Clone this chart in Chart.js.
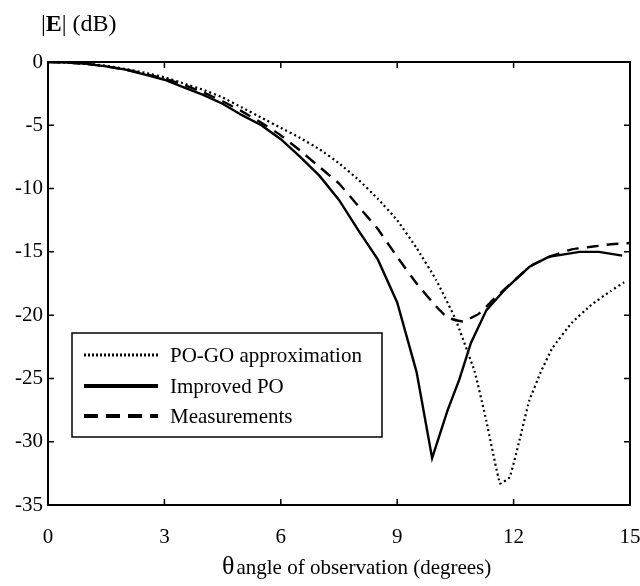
<!DOCTYPE html>
<html>
<head>
<meta charset="utf-8">
<script src="https://cdn.jsdelivr.net/npm/chart.js@4.4.1/dist/chart.umd.min.js"></script>
<style>
  html, body { margin: 0; padding: 0; background: #fff; }
  #wrap { width: 640px; height: 586px; }
</style>
</head>
<body>
<div id="wrap"><canvas id="chart" width="640" height="586"></canvas></div>
<script>
// tick labels
const xTicks = [0, 3, 6, 9, 12, 15];
const yTicks = [0, -5, -10, -15, -20, -25, -30, -35];

// PO-GO approximation (dotted)
const poGoTheta = [0, 0.5, 1, 1.5, 2, 2.5, 3, 3.5, 4, 4.5, 5, 5.5, 6, 6.5, 7, 7.5, 8, 8.5, 9, 9.5, 10, 10.5, 11, 11.3, 11.65, 11.9, 12.15, 12.4, 12.7, 13, 13.5, 14, 14.5, 14.85];
const poGoDb    = [0, -0.05, -0.15, -0.3, -0.55, -0.85, -1.2, -1.7, -2.2, -2.8, -3.6, -4.4, -5.2, -6.0, -6.9, -8.0, -9.3, -10.8, -12.5, -14.7, -17.2, -20.3, -24.5, -28.4, -33.3, -32.8, -29.9, -26.8, -24.5, -22.6, -20.6, -19.2, -18.1, -17.4];

// Improved PO (solid)
const impTheta = [0, 0.5, 1, 1.5, 2, 2.5, 3, 3.5, 4, 4.5, 5, 5.5, 6, 6.5, 7, 7.5, 8, 8.5, 9, 9.5, 9.9, 10.3, 10.6, 10.9, 11.3, 11.8, 12.4, 12.9, 13.7, 14.2, 14.8];
const impDb    = [0, -0.05, -0.15, -0.35, -0.6, -1.0, -1.4, -2.0, -2.6, -3.3, -4.2, -5.0, -6.1, -7.5, -9.0, -10.9, -13.3, -15.6, -19.0, -24.5, -31.3, -27.5, -25.1, -22.2, -19.6, -17.9, -16.2, -15.4, -15.0, -15.0, -15.3];

// Measurements (dashed)
const measTheta = [0, 0.5, 1, 1.5, 2, 2.5, 3, 3.5, 4, 4.5, 5, 5.5, 6, 6.5, 7, 7.5, 8, 8.5, 9, 9.5, 10, 10.3, 10.7, 11.1, 11.5, 12, 12.5, 13, 13.5, 14, 14.5, 15];
const measDb    = [0, -0.05, -0.15, -0.35, -0.6, -0.95, -1.3, -1.8, -2.4, -3.1, -3.9, -4.8, -5.8, -7.0, -8.3, -9.6, -11.4, -13.2, -15.4, -17.5, -19.3, -20.2, -20.5, -19.9, -18.7, -17.3, -16.0, -15.3, -14.8, -14.6, -14.4, -14.3];

const serif = '"Liberation Serif", "Times New Roman", serif';

function toPoints(xs, ys) {
  return xs.map((x, i) => ({ x: x, y: ys[i] }));
}

// inward ticks on all four sides, titles and the boxed legend
const decorations = {
  id: 'decorations',
  afterDraw(chart) {
    const ctx = chart.ctx;
    const area = chart.chartArea;
    const xs = chart.scales.x;
    const ys = chart.scales.y;
    ctx.save();
    ctx.strokeStyle = '#000';
    ctx.lineWidth = 1.5;
    ctx.beginPath();
    xTicks.forEach(v => {
      const px = xs.getPixelForValue(v);
      ctx.moveTo(px, area.bottom); ctx.lineTo(px, area.bottom - 6);
      ctx.moveTo(px, area.top); ctx.lineTo(px, area.top + 6);
    });
    yTicks.forEach(v => {
      const py = ys.getPixelForValue(v);
      ctx.moveTo(area.left, py); ctx.lineTo(area.left + 6, py);
      ctx.moveTo(area.right, py); ctx.lineTo(area.right - 6, py);
    });
    ctx.stroke();

    // frame
    ctx.lineWidth = 2;
    ctx.strokeRect(area.left, area.top, area.right - area.left, area.bottom - area.top);

    // y title  |E| (dB)
    ctx.fillStyle = '#000';
    ctx.textBaseline = 'alphabetic';
    ctx.textAlign = 'left';
    let x = 41;
    const yb = 31;
    ctx.font = '24px ' + serif;
    ctx.fillText('|', x, yb); x += ctx.measureText('|').width;
    ctx.font = 'bold 24px ' + serif;
    ctx.fillText('E', x, yb); x += ctx.measureText('E').width;
    ctx.font = '24px ' + serif;
    ctx.fillText('| (dB)', x, yb);

    // x title
    x = 222;
    const xb = 574;
    ctx.font = '26px ' + serif;
    ctx.fillText('\u03b8', x, xb); x += ctx.measureText('\u03b8').width + 2;
    ctx.font = '21px ' + serif;
    ctx.fillText('angle of observation (degrees)', x, xb);

    // legend box
    const lx = 72, ly = 333, lw = 310, lh = 104;
    ctx.lineWidth = 1.5;
    ctx.fillStyle = '#fff';
    ctx.fillRect(lx, ly, lw, lh);
    ctx.strokeRect(lx, ly, lw, lh);
    const rows = [355, 386, 416];
    chart.data.datasets.forEach((ds, i) => {
      const ry = rows[i];
      ctx.beginPath();
      ctx.strokeStyle = '#000';
      ctx.lineWidth = ds.legendWidth;
      ctx.setLineDash(ds.legendDash);
      ctx.moveTo(84, ry); ctx.lineTo(158, ry);
      ctx.stroke();
      ctx.setLineDash([]);
      ctx.fillStyle = '#000';
      ctx.font = '21px ' + serif;
      ctx.textBaseline = 'middle';
      ctx.fillText(ds.label, 170, ry + 1);
    });
    ctx.restore();
  }
};

const ctx = document.getElementById('chart').getContext('2d');
const chart = new Chart(ctx, {
  type: 'line',
  data: {
    datasets: [
      {
        label: 'PO-GO approximation',
        data: toPoints(poGoTheta, poGoDb),
        borderColor: '#000',
        borderWidth: 2.2,
        borderDash: [2, 3],
        legendDash: [2, 2],
        legendWidth: 3,
        pointRadius: 0,
        tension: 0.1,
        fill: false
      },
      {
        label: 'Improved PO',
        data: toPoints(impTheta, impDb),
        borderColor: '#000',
        borderWidth: 2.4,
        borderDash: [],
        legendDash: [],
        legendWidth: 4,
        pointRadius: 0,
        tension: 0,
        fill: false
      },
      {
        label: 'Measurements',
        data: toPoints(measTheta, measDb),
        borderColor: '#000',
        borderWidth: 2.4,
        borderDash: [12, 8],
        legendDash: [14, 8],
        legendWidth: 4,
        pointRadius: 0,
        tension: 0.1,
        fill: false
      }
    ]
  },
  options: {
    responsive: false,
    animation: false,
    layout: { padding: { top: 62, right: 10, left: 0, bottom: 0 } },
    plugins: {
      legend: { display: false },
      tooltip: { enabled: false }
    },
    scales: {
      x: {
        type: 'linear',
        min: 0,
        max: 15,
        afterFit: s => { s.height = 81; s.paddingLeft = 0; s.paddingRight = 0; },
        afterBuildTicks: s => { s.ticks = xTicks.map(v => ({ value: v })); },
        grid: { display: false, drawTicks: false },
        border: { display: false },
        ticks: {
          color: '#000',
          padding: 20,
          maxRotation: 0,
          font: { family: serif, size: 21 }
        }
      },
      y: {
        type: 'linear',
        min: -35,
        max: 0,
        afterFit: s => { s.width = 48; s.paddingTop = 0; s.paddingBottom = 0; },
        afterBuildTicks: s => { s.ticks = yTicks.map(v => ({ value: v })); },
        grid: { display: false, drawTicks: false },
        border: { display: false },
        ticks: {
          color: '#000',
          padding: 5,
          font: { family: serif, size: 21 }
        }
      }
    }
  },
  plugins: [decorations]
});
</script>
</body>
</html>
